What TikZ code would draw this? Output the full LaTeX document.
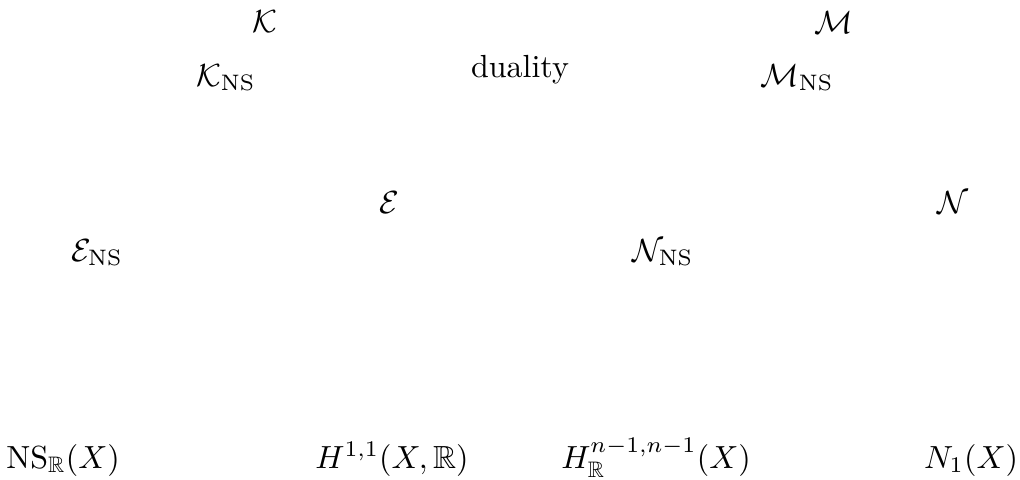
\documentclass[tikz,border=0pt]{standalone}
\usepackage{amsmath,amssymb}
\usepackage{tikz}
\usetikzlibrary{arrows.meta,positioning}

\begin{document}
\begin{tikzpicture}[x=0.3125pt, y=-0.3125pt, every node/.style={anchor=base}]

  \useasboundingbox (0,0) rectangle (1020,479);

  % Define coordinates for nodes
  \node (K) at (265, 32) {$\mathcal{K}$};
  \node (KNS) at (226, 86) {$\mathcal{K}_{\mathrm{NS}}$};
  \node (dual) at (520, 77) {duality};
  \node (M) at (834, 33) {$\mathcal{M}$};
  \node (MNS) at (797, 86) {$\mathcal{M}_{\mathrm{NS}}$};
  \node (E) at (389, 213) {$\mathcal{E}$};
  \node (N) at (953, 213) {$\mathcal{N}$};
  \node (ENS) at (97, 261) {$\mathcal{E}_{\mathrm{NS}}$};
  \node (NNS) at (663, 261) {$\mathcal{N}_{\mathrm{NS}}$};
  \node (NSR) at (63, 468) {$\mathrm{NS}_{\mathbb{R}}(X)$};
  \node (H11) at (392, 468) {$H^{1,1}(X,\mathbb{R})$};
  \node (Hnn) at (656, 468) {$H^{n-1,n-1}_{\mathbb{R}}(X)$};
  \node (N1) at (971, 468) {$N_1(X)$};

\end{tikzpicture}
\end{document}
